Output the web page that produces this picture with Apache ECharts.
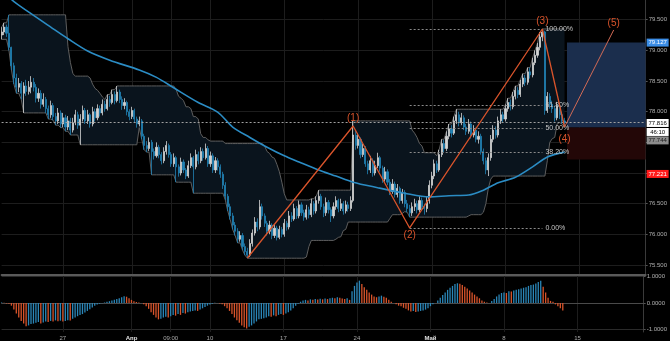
<!DOCTYPE html>
<html><head><meta charset="utf-8">
<script src="https://cdn.jsdelivr.net/npm/echarts@6/dist/echarts.min.js"></script>
<style>html,body{margin:0;padding:0;background:#000;}#c{width:670px;height:341px;}</style>
</head><body><div id="c"></div>
<script>
// ---------- data ----------
const N = 263; // category slots on the time axis
const firstOpen = 79.25;
const closes = [
79.30,79.38,79.28,79.05,78.75,78.55,78.40,78.46,78.30,78.42,
78.33,78.40,78.48,78.40,78.22,78.30,78.12,78.20,78.05,77.95,
78.10,77.92,77.85,77.98,77.80,77.90,77.75,77.85,77.70,77.82,
77.95,77.78,77.88,78.02,77.85,77.95,77.80,78.00,77.90,78.05,
77.98,78.12,78.05,78.20,78.15,78.28,78.18,78.32,78.20,78.10,
78.15,78.00,77.92,78.02,77.88,77.80,77.85,77.60,77.45,77.40,
77.50,77.35,77.28,77.42,77.30,77.20,77.35,77.45,77.30,77.15,
77.25,77.10,77.00,77.18,77.05,76.95,77.12,77.25,77.10,77.30,
77.20,77.35,77.25,77.40,77.15,77.28,77.05,77.20,77.10,76.98,
76.80,76.62,76.45,76.30,76.15,76.05,75.92,75.98,75.80,75.72,
75.66,75.85,76.02,76.20,76.12,76.45,76.30,76.18,76.05,76.15,
75.98,76.10,75.95,76.08,76.00,76.18,76.12,76.30,76.25,76.42,
76.30,76.48,76.35,76.28,76.40,76.32,76.50,76.38,76.55,76.62,
76.45,76.35,76.52,76.40,76.30,76.45,76.55,76.42,76.50,76.38,
76.48,76.42,76.55,77.62,77.45,77.55,77.30,77.40,77.15,77.05,
77.20,77.00,77.12,77.25,77.08,76.90,77.02,76.85,76.70,76.82,
76.65,76.75,76.55,76.68,76.50,76.42,76.35,76.45,76.50,76.40,
76.55,76.45,76.42,76.55,76.80,76.95,77.15,77.05,77.30,77.48,
77.40,77.60,77.72,77.65,77.85,77.95,77.82,77.90,77.75,77.68,
77.80,77.62,77.70,77.55,77.60,77.35,77.20,77.05,77.25,77.55,
77.70,77.62,77.85,77.95,77.88,78.05,78.15,78.08,78.25,78.35,
78.28,78.45,78.55,78.48,78.65,78.60,78.80,78.92,79.05,79.22,
79.30,78.02,78.25,78.12,78.05,77.90,78.10,77.95,77.85,77.816];
const highs = [
79.38,79.45,79.42,79.58,79.06,78.80,78.62,78.55,78.50,78.48,
78.52,78.50,78.58,78.55,78.45,78.38,78.35,78.30,78.24,78.10,
78.18,78.14,77.98,78.06,78.02,77.98,77.95,77.93,77.90,77.90,
78.03,78.00,77.96,78.10,78.06,78.03,77.98,78.08,78.05,78.12,
78.10,78.20,78.18,78.28,78.26,78.36,78.33,78.42,78.36,78.25,
78.22,78.18,78.04,78.08,78.05,77.92,77.92,77.88,77.64,77.52,
77.58,77.54,77.40,77.50,77.46,77.34,77.42,77.52,77.48,77.34,
77.32,77.28,77.14,77.25,77.22,77.08,77.20,77.32,77.28,77.38,
77.35,77.42,77.40,77.48,77.44,77.35,77.32,77.26,77.24,77.14,
77.02,76.85,76.66,76.50,76.35,76.20,76.10,76.05,76.02,75.85,
75.78,75.92,76.08,76.28,76.26,76.56,76.50,76.34,76.22,76.22,
76.18,76.16,76.14,76.14,76.12,76.25,76.22,76.38,76.36,76.50,
76.46,76.55,76.52,76.40,76.48,76.45,76.58,76.54,76.62,76.72,
76.66,76.50,76.60,76.56,76.44,76.52,76.62,76.58,76.58,76.54,
76.55,76.53,76.62,77.85,77.70,77.65,77.58,77.48,77.44,77.20,
77.28,77.24,77.20,77.33,77.28,77.12,77.10,77.06,76.90,76.90,
76.86,76.82,76.78,76.74,76.72,76.56,76.48,76.52,76.58,76.55,
76.62,76.60,76.50,76.62,76.88,77.02,77.22,77.20,77.38,77.55,
77.54,77.68,77.80,77.78,77.92,78.04,78.00,77.98,77.94,77.80,
77.88,77.84,77.78,77.74,77.68,77.64,77.40,77.25,77.32,77.62,
77.78,77.76,77.92,78.04,78.00,78.12,78.22,78.20,78.32,78.42,
78.40,78.52,78.62,78.60,78.72,78.72,78.88,79.00,79.12,79.30,
79.35,79.32,78.32,78.30,78.18,78.10,78.16,78.14,78.00,77.90];
const lows = [
79.18,79.25,79.22,79.00,78.68,78.45,78.30,78.32,78.20,77.98,
78.26,78.28,78.30,78.33,78.15,78.16,78.05,78.08,77.98,77.88,
77.90,77.86,77.78,77.80,77.74,77.75,77.68,77.70,77.62,77.66,
77.78,77.72,77.46,77.84,77.80,77.80,77.74,77.76,77.84,77.86,
77.92,77.94,78.00,78.02,78.08,78.12,78.12,78.15,78.14,78.03,
78.04,77.94,77.86,77.88,77.82,77.74,77.76,77.55,77.38,77.34,
77.36,76.97,77.22,77.25,77.24,77.14,77.16,77.30,77.25,77.10,
77.10,76.85,76.94,76.96,77.00,76.90,76.92,77.08,76.67,77.06,
77.14,77.16,77.20,77.22,77.10,77.10,77.00,77.00,77.04,76.92,
76.74,76.56,76.38,76.24,76.08,75.98,75.86,75.88,75.74,75.66,
75.61,75.63,75.80,75.98,76.05,76.08,76.24,76.12,75.98,76.00,
75.92,75.94,75.90,75.92,75.95,75.96,76.06,76.08,76.20,76.22,
76.25,76.26,76.30,76.22,76.24,76.26,76.28,76.32,76.34,76.50,
76.40,76.28,76.30,76.34,76.20,76.26,76.40,76.36,76.38,76.32,
76.34,76.37,76.38,76.52,77.38,77.40,77.24,77.26,77.10,76.98,
77.00,76.94,76.96,77.08,77.02,76.84,76.86,76.80,76.64,76.66,
76.60,76.60,76.50,76.50,76.44,76.36,76.28,76.30,76.38,76.34,
76.36,76.40,76.32,76.36,76.50,76.75,76.90,77.00,77.02,77.26,
77.34,77.36,77.55,77.58,77.62,77.80,77.76,77.78,77.70,77.62,
77.64,77.56,77.58,77.50,77.48,77.30,77.14,76.98,76.95,77.20,
77.50,77.56,77.58,77.80,77.82,77.84,78.00,78.02,78.04,78.20,
78.22,78.24,78.40,78.42,78.44,78.54,78.56,78.76,78.88,79.00,
79.15,77.95,77.98,78.05,77.98,77.84,77.86,77.88,77.80,77.75];
const osc = [
0.02,0.01,-0.02,-0.03,
-0.1,-0.25,-0.4,-0.55,-0.68,-0.78,-0.88,
-0.85,-0.8,-0.78,
-0.75,-0.72,-0.78,-0.74,-0.7,-0.72,-0.68,-0.7,-0.66,-0.69,-0.67,-0.7,-0.68,-0.65,-0.66,
-0.6,-0.55,-0.5,-0.45,-0.42,-0.36,-0.3,-0.24,-0.17,-0.1,-0.06,
-0.03,-0.01,0.02,
0.05,0.07,0.1,0.12,0.15,0.18,0.22,
0.26,0.24,
0.18,0.12,0.07,0.04,0.02,0.0,
-0.05,-0.12,-0.22,-0.35,-0.45,-0.55,-0.62,
-0.6,-0.55,-0.52,-0.55,-0.5,-0.45,
-0.48,-0.42,-0.45,-0.38,-0.4,-0.35,-0.32,-0.3,-0.28,-0.3,
-0.25,-0.2,-0.15,-0.1,-0.06,-0.03,0.01,
0.0,-0.02,-0.05,
-0.12,-0.2,-0.3,-0.42,-0.55,-0.65,-0.75,-0.85,-0.92,-0.97,
-0.9,-0.85,-0.78,-0.7,-0.62,-0.6,-0.58,
-0.55,-0.5,-0.52,-0.47,-0.5,-0.45,-0.42,-0.45,-0.4,-0.35,
-0.28,-0.2,-0.1,-0.03,
0.05,0.1,0.12,0.1,0.14,0.12,0.15,0.13,0.16,
0.14,0.17,0.15,0.18,0.2,0.18,0.22,0.2,0.17,0.15,0.18,
0.12,
0.45,0.65,0.78,0.85,
0.72,0.6,0.5,0.4,0.32,0.25,
0.22,0.25,0.28,0.24,0.2,0.12,
0.05,0.0,
-0.05,-0.1,-0.12,-0.18,-0.22,-0.28,-0.32,-0.3,-0.34,-0.32,-0.3,
-0.28,-0.25,-0.2,-0.12,-0.05,0.0,
0.1,0.2,0.3,0.4,0.5,0.58,0.65,0.72,0.75,0.73,
0.68,0.62,0.55,0.48,0.4,0.32,0.25,0.18,0.1,0.05,0.02,0.0,
0.08,0.15,0.25,0.32,0.38,0.4,0.38,
0.45,0.44,0.48,0.5,0.52,0.55,0.58,0.6,0.65,0.68,0.7,0.74,
0.8,0.85,
0.62,0.4,0.2,0.08,0.05,
-0.05,-0.12,-0.2,-0.28];
const smaPoints = [[0,80.05],[4,79.83],[12,79.6],[20,79.38],[27,79.19],[35,78.99],[44,78.84],[56,78.68],[63,78.56],[70,78.39],[80,78.15],[88,77.99],[94,77.75],[101,77.58],[108,77.42],[115,77.28],[121,77.18],[129,77.05],[136,76.95],[143,76.85],[153,76.76],[164,76.67],[174,76.61],[182,76.63],[190,76.64],[196,76.72],[202,76.84],[209,76.93],[216,77.10],[222,77.26],[229,77.34]];
const wavePoints = [[100,75.613],[143,77.767],[166,76.103],[220,79.349],[229,77.75]];
const waveNames = ['', '(1)', '(2)', '(3)', '(4)'];
const wave5Points = [[229,77.75],[249,79.333]];
const wave5Name = '(5)';
const fibLevels = [1, 0.618, 0.5, 0.382, 0];
const fibNames = ['100.00%', '61.80%', '50.00%', '38.20%', '0.00%'];
const fibLow = 76.103, fibHigh = 79.349, fibFrom = 166, fibTo = 220;
const boxFrom = 230, boxTo = 262;
const boxTarget = 79.127, boxEntry = 77.744, boxStop = 77.221;
const lastPrice = 77.816;
const priceTicks = [75.5, 76, 76.5, 77, 77.5, 78, 78.5, 79, 79.5];
const oscTicks = [-1, 0, 1];
const xTickIdx = [25, 53, 69, 85, 115, 145, 175, 205, 235];
const xTickText = ['27', 'Апр', '09:00', '10', '17', '24', 'Май', '8', '15'];
const monthTicks = ['Апр', 'Май'];
const tagValues = [79.127, 77.816, 77.816, 77.744, 77.221];
const tagTexts = ['79.127', '77.816', '46:10', '77.744', '77.221'];
const donchianLen = 24;

// ---------- build ----------
const FONT = '"Liberation Sans", Arial, sans-serif';
const cats = Array.from({length: N}, (_, i) => 'b' + i);
const opens = closes.map((c, i) => i === 0 ? firstOpen : closes[i - 1]);
const candleData = closes.map((c, i) => [opens[i], c, lows[i], highs[i]]);
const upper = [], lower = [];
for (let i = 0; i < closes.length; i++) {
  let h = -Infinity, l = Infinity;
  for (let k = Math.max(0, i - donchianLen + 1); k <= i; k++) { h = Math.max(h, highs[k]); l = Math.min(l, lows[k]); }
  upper.push(h); lower.push(l);
}
const bandWidth = upper.map((u, i) => +(u - lower[i]).toFixed(4));
const oscData = osc.map((v, i) => ({
  value: v,
  itemStyle: { color: (i > 0 && v < osc[i - 1]) ? '#d9542b' : '#2a86b8' }
}));
const isTick = (idx) => xTickIdx.indexOf(idx) >= 0;
const fibData = fibLevels.map((lv, k) => {
  const p = fibLow + (fibHigh - fibLow) * lv;
  return [{ coord: [fibFrom, p], label: { formatter: fibNames[k] } }, { coord: [fibTo, p] }];
});
const waveData = wavePoints.map((p, k) => ({
  value: p,
  label: {
    show: waveNames[k] !== '',
    formatter: waveNames[k],
    position: (k === 2 || k === 4) ? 'bottom' : 'top',
    distance: k === 4 ? 7 : 2
  }
}));
const tagStyles = [
  { bg: '#3b8de6', fg: '#ffffff', dy: 0 },
  { bg: '#ffffff', fg: '#000000', dy: 0 },
  { bg: '#ffffff', fg: '#000000', dy: 9 },
  { bg: '#8c8c8c', fg: '#1a1a1a', dy: 13 },
  { bg: '#ff1a1a', fg: '#ffffff', dy: 14.5 }
];
const tagData = tagValues.map((v, k) => ({
  coord: [N - 1, v],
  symbol: 'rect',
  symbolSize: [22, 8],
  symbolOffset: [12, tagStyles[k].dy],
  itemStyle: { color: tagStyles[k].bg },
  label: { show: true, position: 'inside', formatter: tagTexts[k], color: tagStyles[k].fg,
           fontSize: 6, fontFamily: FONT }
}));

const gridLineColor = '#1d1d1d';
const option = {
  backgroundColor: '#000000',
  animation: false,
  grid: [
    { left: 1.6, right: 22.8, top: 0, height: 275 },
    { left: 1.6, right: 22.8, top: 276, height: 56 }
  ],
  xAxis: [
    { type: 'category', gridIndex: 0, data: cats, boundaryGap: false,
      axisLine: { show: true, lineStyle: { color: '#5a5a5a', width: 2 } },
      axisTick: { show: false }, axisLabel: { show: false },
      splitLine: { show: true, interval: (i) => isTick(i), lineStyle: { color: gridLineColor } } },
    { type: 'category', gridIndex: 1, data: cats, boundaryGap: false,
      axisLine: { show: true, lineStyle: { color: '#4a4a4a' } },
      axisTick: { show: false },
      axisLabel: { show: true, interval: (i) => isTick(i), margin: 3,
        formatter: (v, i) => { const k = xTickIdx.indexOf(i); if (k < 0) return ''; const t = xTickText[k]; return monthTicks.indexOf(t) >= 0 ? '{m|' + t + '}' : t; },
        color: '#a8a8a8', fontSize: 6, fontFamily: FONT,
        rich: { m: { color: '#e0e0e0', fontWeight: 'bold', fontSize: 6, fontFamily: FONT } } },
      splitLine: { show: true, interval: (i) => isTick(i), lineStyle: { color: gridLineColor } } }
  ],
  yAxis: [
    { type: 'value', gridIndex: 0, position: 'right', min: 75.336, max: 79.822, scale: true,
      axisLine: { show: true, lineStyle: { color: '#3a3a3a' } },
      axisTick: { show: true, length: 2, customValues: priceTicks, lineStyle: { color: '#555' } },
      axisLabel: { customValues: priceTicks, formatter: (v) => v.toFixed(3), color: '#b0b0b0', fontSize: 6, fontFamily: FONT, margin: 3 },
      splitLine: { show: true, lineStyle: { color: gridLineColor } } },
    { type: 'value', gridIndex: 1, position: 'right', min: -1.1, max: 1.026,
      axisLine: { show: true, lineStyle: { color: '#3a3a3a' } },
      axisTick: { show: true, length: 2, customValues: oscTicks, lineStyle: { color: '#555' } },
      axisLabel: { customValues: oscTicks, formatter: (v) => v.toFixed(4), color: '#b0b0b0', fontSize: 6, fontFamily: FONT, margin: 3 },
      splitLine: { show: true, lineStyle: { color: '#2a2a2a' } } }
  ],
  series: [
    { name: 'dcBase', type: 'line', xAxisIndex: 0, yAxisIndex: 0, stack: 'dc', data: lower,
      symbol: 'none', lineStyle: { opacity: 0 }, z: 1, silent: true },
    { name: 'dcFill', type: 'line', xAxisIndex: 0, yAxisIndex: 0, stack: 'dc', data: bandWidth,
      symbol: 'none', lineStyle: { opacity: 0 }, areaStyle: { color: '#0a141d', opacity: 1 }, z: 1, silent: true },
    { name: 'dcUpper', type: 'line', data: upper, symbol: 'none', lineStyle: { color: '#5e5e5e', width: 1 }, z: 2, silent: true },
    { name: 'dcLower', type: 'line', data: lower, symbol: 'none', lineStyle: { color: '#5e5e5e', width: 1 }, z: 2, silent: true },
    { name: 'position', type: 'line', data: [], z: 2, silent: true,
      markArea: { silent: true, data: [
        [{ coord: [boxFrom, boxTarget], itemStyle: { color: '#1b2e4d' } }, { coord: [boxTo, boxEntry] }],
        [{ coord: [boxFrom, boxEntry], itemStyle: { color: '#230707' } }, { coord: [boxTo, boxStop] }]
      ] } },
    { name: 'price', type: 'candlestick', data: candleData, barWidth: 1.6, z: 3,
      itemStyle: { color: '#d4d4d4', color0: '#2182b4', borderColor: '#d4d4d4', borderColor0: '#2182b4', borderWidth: 0.8 } },
    { name: 'sma', type: 'line', data: smaPoints, smooth: 0.3, symbol: 'none', z: 4,
      lineStyle: { color: '#2b8cc4', width: 1.6 } },
    { name: 'last', type: 'line', data: [], z: 4, silent: true,
      markLine: { silent: true, symbol: 'none', label: { show: false },
        lineStyle: { color: '#a0a0a0', type: [2, 2], width: 1 }, data: [{ yAxis: lastPrice }] } },
    { name: 'fib', type: 'line', data: [], z: 5, silent: true,
      markLine: { silent: true, symbol: 'none',
        lineStyle: { color: '#8a8a8a', type: [2, 2], width: 1 },
        label: { show: true, position: 'end', distance: 3, color: '#c4c4c4', fontSize: 7, fontFamily: FONT },
        data: fibData } },
    { name: 'wave', type: 'line', data: waveData, symbol: 'circle', symbolSize: 1, z: 6,
      itemStyle: { color: 'rgba(0,0,0,0)' },
      lineStyle: { color: '#d9542b', width: 1.3 },
      label: { color: '#d9542b', fontSize: 10, fontFamily: FONT } },
    { name: 'wave5', type: 'line', z: 6, symbol: 'circle', symbolSize: 1,
      itemStyle: { color: 'rgba(0,0,0,0)' },
      data: [{ value: wave5Points[0] }, { value: wave5Points[1], label: { show: true, formatter: wave5Name, position: 'top', distance: 1 } }],
      lineStyle: { color: '#d26a55', width: 1 },
      label: { color: '#d9542b', fontSize: 10, fontFamily: FONT } },
    { name: 'tags', type: 'line', data: [], z: 10, silent: true,
      markPoint: { silent: true, data: tagData } },
    { name: 'osc', type: 'bar', xAxisIndex: 1, yAxisIndex: 1, data: oscData, barWidth: 1.3, z: 3 }
  ]
};
const chart = echarts.init(document.getElementById('c'), null, { renderer: 'canvas' });
chart.setOption(option);
</script>
</body></html>
